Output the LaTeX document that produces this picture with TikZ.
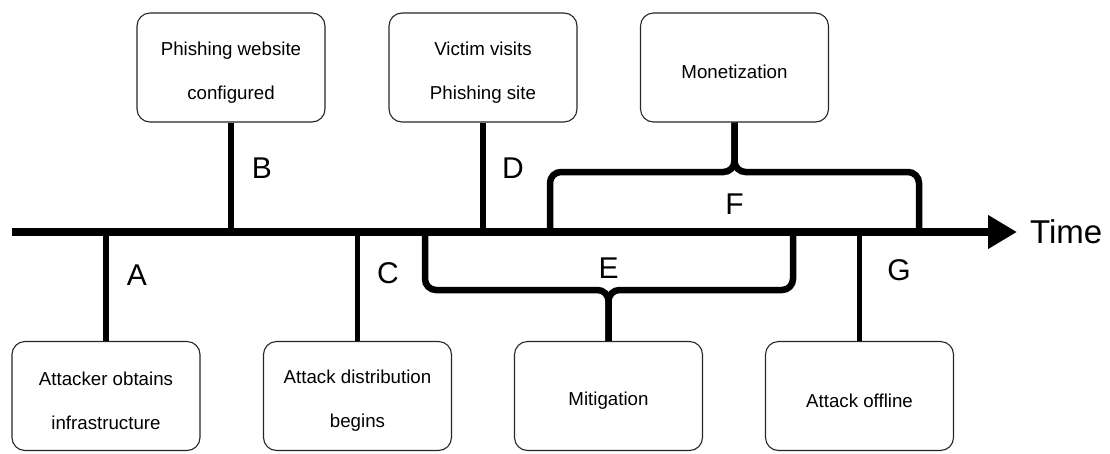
\documentclass[tikz,border=0pt]{standalone}
\usepackage{fontspec}
\setmainfont{Liberation Sans}
\usetikzlibrary{arrows.meta,positioning}
\newcommand{\evtop}{\rule{0pt}{23pt}}
\begin{document}
\begin{tikzpicture}[x=1pt, y=-1pt,
		event/.style={draw=black!85, line width=1.1pt, rounded corners=13pt, minimum width=188pt, minimum height=109pt, align=center, font=\fontsize{18.7}{44}\selectfont},
		stem/.style={line width=5.5pt},
		brace/.style={line width=6.5pt, rounded corners=11pt},
		letter/.style={font=\fontsize{30}{36}\selectfont, inner sep=0pt}]
	\useasboundingbox (0,0) rectangle (1110,453);
	% events above the time line
	\node[event] (website) at (231,67.5) {\evtop Phishing website\\configured};
	\node[event] (visit) at (483,67.5) {\evtop Victim visits\\Phishing site};
	\node[event] (money) at (734.5,67.5) {\evtop Monetization};
	% events below the time line
	\node[event] (infra) at (106,396) {\evtop Attacker obtains\\infrastructure};
	\node[event] (distrib) at (357.5,396) {\evtop Attack distribution\\begins};
	\node[event] (mitig) at (608.5,396) {\evtop Mitigation};
	\node[event] (offline) at (859.5,396) {\evtop Attack offline};
	% time line
	\coordinate (tStart) at (12,232);
	\coordinate (tEnd) at (1017,232);
	\coordinate (eLeft) at (425,232);
	\coordinate (eRight) at (793,232);
	\coordinate (fLeft) at (550,232);
	\coordinate (fRight) at (919,232);
	\draw[brace] (eLeft) |- (608.5,290) -- (mitig.north);
	\draw[brace] (eRight) |- (608.5,290) -- (mitig.north);
	\draw[brace] (fLeft) |- (734.5,172) -- (money.south);
	\draw[brace] (fRight) |- (734.5,172) -- (money.south);
	\draw[stem] (website.south) -- (website.south |- tStart);
	\draw[stem] (visit.south) -- (visit.south |- tStart);
	\draw[stem] (infra.north) -- (infra.north |- tStart);
	\draw[stem] (distrib.north) -- (distrib.north |- tStart);
	\draw[stem] (offline.north) -- (offline.north |- tStart);
	\draw[line width=7.5pt, -{Triangle[length=29pt, width=32pt]}] (tStart) -- (tEnd);
	\node[font=\fontsize{33}{40}\selectfont, inner sep=0pt, right=13pt of tEnd] (time) {Time};
	% letters
	\node[letter] (labA) at (137,275) {A};
	\node[letter] (labB) at (262,168) {B};
	\node[letter] (labC) at (388,273) {C};
	\node[letter] (labD) at (513,168) {D};
	\node[letter] (labE) at (608.5,268) {E};
	\node[letter] (labF) at (734.5,204) {F};
	\node[letter] (labG) at (899,270) {G};
\end{tikzpicture}
\end{document}
